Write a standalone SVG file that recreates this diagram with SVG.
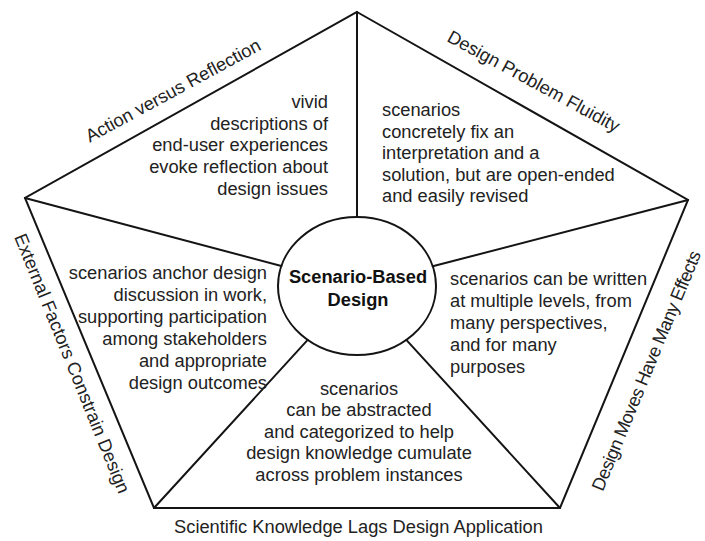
<svg xmlns="http://www.w3.org/2000/svg" width="705" height="541" viewBox="0 0 705 541">
  <style>
    .line { fill: none; stroke: #141414; stroke-width: 2; stroke-linejoin: miter; stroke-linecap: round; }
    .body { font-family: "Liberation Sans", Arial, sans-serif; font-size: 18.3px; fill: #222; }
    .edge { font-family: "Liberation Sans", Arial, sans-serif; font-size: 18.3px; fill: #222; text-anchor: middle; }
    .hub { font-family: "Liberation Sans", Arial, sans-serif; font-size: 18.3px; font-weight: bold; fill: #111; text-anchor: middle; }
    .end { text-anchor: end; }
    .mid { text-anchor: middle; }
  </style>

  <rect width="705" height="541" fill="#fff"/>

  <!-- outer pentagon -->
  <g id="frame">
    <polygon class="line" points="357,12 688,200 560,508 154,508 25,198"/>
  </g>

  <!-- spokes from the hub to each corner -->
  <g id="connectors">
    <line class="line" x1="357" y1="12" x2="357" y2="217"/>
    <line class="line" x1="25" y1="198" x2="281.4" y2="266"/>
    <line class="line" x1="688" y1="200" x2="432.7" y2="266.3"/>
    <line class="line" x1="154" y1="508" x2="307.7" y2="339.9"/>
    <line class="line" x1="560" y1="508" x2="406.3" y2="339.9"/>
  </g>

  <!-- hub -->
  <g id="hub">
    <ellipse class="line" cx="357" cy="286" rx="79" ry="69" fill="#fff"/>
    <text class="hub" x="358" y="283">Scenario-Based</text>
    <text class="hub" x="358" y="306">Design</text>
  </g>

  <!-- sector statements -->
  <g id="sector-reflection">
    <text class="body end" x="328" y="108">vivid</text>
    <text class="body end" x="328" y="129.7">descriptions of</text>
    <text class="body end" x="328" y="151.4">end-user experiences</text>
    <text class="body end" x="328" y="173.1">evoke reflection about</text>
    <text class="body end" x="328" y="194.8">design issues</text>
  </g>

  <g id="sector-fluidity">
    <text class="body" x="382" y="116">scenarios</text>
    <text class="body" x="382" y="137.5">concretely fix an</text>
    <text class="body" x="382" y="159">interpretation and a</text>
    <text class="body" x="382" y="180.5">solution, but are open-ended</text>
    <text class="body" x="382" y="202">and easily revised</text>
  </g>

  <g id="sector-effects">
    <text class="body" x="450" y="285">scenarios can be written</text>
    <text class="body" x="450" y="307">at multiple levels, from</text>
    <text class="body" x="450" y="329">many perspectives,</text>
    <text class="body" x="450" y="351">and for many</text>
    <text class="body" x="450" y="373">purposes</text>
  </g>

  <g id="sector-knowledge">
    <text class="body mid" x="359" y="395">scenarios</text>
    <text class="body mid" x="359" y="416.4">can be abstracted</text>
    <text class="body mid" x="359" y="437.8">and categorized to help</text>
    <text class="body mid" x="359" y="459.2">design knowledge cumulate</text>
    <text class="body mid" x="359" y="480.6">across problem instances</text>
  </g>

  <g id="sector-external">
    <text class="body end" x="267" y="279">scenarios anchor design</text>
    <text class="body end" x="267" y="300.9">discussion in work,</text>
    <text class="body end" x="267" y="322.8">supporting participation</text>
    <text class="body end" x="267" y="344.7">among stakeholders</text>
    <text class="body end" x="267" y="366.6">and appropriate</text>
    <text class="body end" x="267" y="388.5">design outcomes</text>
  </g>

  <!-- edge labels -->
  <g id="label-action">
    <text class="edge" transform="translate(176,96) rotate(-28.5)">Action versus Reflection</text>
  </g>
  <g id="label-fluidity">
    <text class="edge" transform="translate(530.7,86.8) rotate(28.5)">Design Problem Fluidity</text>
  </g>
  <g id="label-effects">
    <text class="edge" transform="translate(652,373) rotate(-67.5)" textLength="258" lengthAdjust="spacing">Design Moves Have Many Effects</text>
  </g>
  <g id="label-external">
    <text class="edge" transform="translate(66.4,365.8) rotate(67.9)">External Factors Constrain Design</text>
  </g>
  <g id="label-science">
    <text class="edge" x="358.5" y="533">Scientific Knowledge Lags Design Application</text>
  </g>
</svg>
